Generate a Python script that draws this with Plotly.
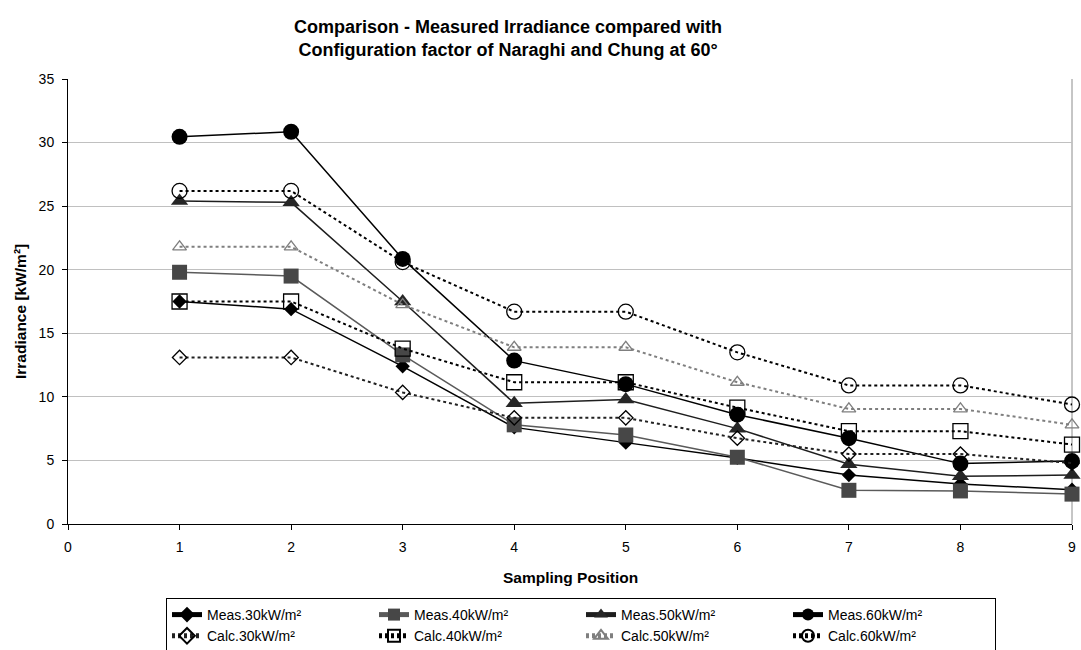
import plotly.graph_objects as go

# Sampling positions along the test rig
positions = [1, 2, 3, 4, 5, 6, 7, 8, 9]

# Measured irradiance [kW/m²] per heater setting
meas_30 = [17.5, 16.9, 12.4, 7.6, 6.4, 5.2, 3.85, 3.15, 2.7]
meas_40 = [19.8, 19.5, 13.3, 7.8, 7.0, 5.25, 2.65, 2.6, 2.35]
meas_50 = [25.4, 25.3, 17.5, 9.5, 9.8, 7.5, 4.7, 3.75, 3.85]
meas_60 = [30.45, 30.85, 20.85, 12.85, 11.0, 8.6, 6.75, 4.75, 4.95]

# Irradiance calculated with the Naraghi and Chung configuration factor
calc_30 = [13.1, 13.1, 10.35, 8.35, 8.35, 6.75, 5.5, 5.5, 4.8]
calc_40 = [17.5, 17.5, 13.8, 11.15, 11.15, 9.15, 7.3, 7.3, 6.25]
calc_50 = [21.8, 21.8, 17.25, 13.9, 13.9, 11.15, 9.05, 9.05, 7.8]
calc_60 = [26.2, 26.2, 20.6, 16.7, 16.7, 13.5, 10.9, 10.9, 9.4]

FONT = "Arial, Liberation Sans, sans-serif"

series = [
    ("Meas.30kW/m²", meas_30, dict(color="#000000", width=1.5, dash="solid"),
     dict(symbol="diamond", size=11, color="#000000")),
    ("Meas.40kW/m²", meas_40, dict(color="#5a5a5a", width=1.5, dash="solid"),
     dict(symbol="square", size=15, color="#474747")),
    ("Meas.50kW/m²", meas_50, dict(color="#1e1e1e", width=1.5, dash="solid"),
     dict(symbol="triangle-up", size=15, color="#262626")),
    ("Meas.60kW/m²", meas_60, dict(color="#000000", width=1.5, dash="solid"),
     dict(symbol="circle", size=16, color="#000000")),
    ("Calc.30kW/m²", calc_30, dict(color="#202020", width=2, dash="3px,3px"),
     dict(symbol="diamond-open", size=11, color="#000000", line=dict(width=1.3))),
    ("Calc.40kW/m²", calc_40, dict(color="#000000", width=2, dash="3px,3px"),
     dict(symbol="square-open", size=15, color="#000000", line=dict(width=1.3))),
    ("Calc.50kW/m²", calc_50, dict(color="#7f7f7f", width=2, dash="3px,3px"),
     dict(symbol="triangle-up-open", size=12, color="#7f7f7f", line=dict(width=1.3))),
    ("Calc.60kW/m²", calc_60, dict(color="#000000", width=2, dash="3px,3px"),
     dict(symbol="circle-open", size=15, color="#000000", line=dict(width=1.3))),
]

fig = go.Figure()
for name, values, line, marker in series:
    fig.add_trace(go.Scatter(
        x=positions, y=values, name=name, mode="lines+markers",
        line=line, marker=marker, cliponaxis=False,
    ))

fig.update_layout(
    width=1081, height=650,
    margin=dict(l=68, r=9, t=79, b=126, autoexpand=False),
    paper_bgcolor="white", plot_bgcolor="white",
    font=dict(family=FONT, color="#000000", size=14),
    title=dict(
        text="<b>Comparison - Measured Irradiance compared with<br>"
             "Configuration factor of Naraghi and Chung at 60°</b>",
        font=dict(family=FONT, size=18, color="#000000"),
        xref="container", x=0.47, xanchor="center",
        yref="container", y=1 - 33 / 650, yanchor="middle",
    ),
    xaxis=dict(
        range=[0, 9], tick0=0, dtick=1,
        showgrid=False, zeroline=False,
        showline=True, linecolor="#000000", linewidth=1,
        ticks="outside", ticklen=5, tickcolor="#000000",
        ticklabelstandoff=5,
        tickfont=dict(family=FONT, size=14, color="#000000"),
    ),
    yaxis=dict(
        range=[0, 35], tick0=0, dtick=5,
        showgrid=True, gridcolor="#c0c0c0", gridwidth=1, zeroline=False,
        showline=True, linecolor="#000000", linewidth=1,
        ticks="outside", ticklen=5, tickcolor="#000000",
        ticklabelstandoff=5,
        tickfont=dict(family=FONT, size=14, color="#000000"),
    ),
    legend=dict(
        orientation="h",
        x=(166 - 68) / 1004, xanchor="left",
        y=(524 - 598) / 445, yanchor="top",
        bordercolor="#000000", borderwidth=1, bgcolor="white",
        font=dict(family=FONT, size=14, color="#000000"),
        entrywidth=162, itemsizing="constant",
    ),
    annotations=[
        dict(text="<b>Sampling Position</b>", xref="paper", yref="paper",
             x=0.5, y=(524 - 577) / 445, xanchor="center", yanchor="middle",
             showarrow=False, font=dict(family=FONT, size=15.5, color="#000000")),
        dict(text="<b>Irradiance [kW/m²]</b>", xref="paper", yref="paper",
             x=(20 - 68) / 1004, y=(524 - 312) / 445, xanchor="center",
             yanchor="middle", textangle=-90, showarrow=False,
             font=dict(family=FONT, size=15.5, color="#000000")),
    ],
    shapes=[
        dict(type="line", xref="paper", yref="paper", x0=1, x1=1, y0=0, y1=1,
             line=dict(color="#8c8c8c", width=1), layer="below"),
    ],
)

fig.write_html("out.html")
